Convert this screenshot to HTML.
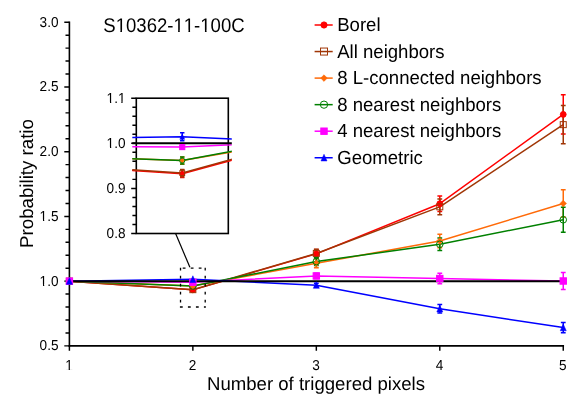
<!DOCTYPE html>
<html><head><meta charset="utf-8"><title>chart</title>
<style>
html,body{margin:0;padding:0;background:#fff;}
svg{display:block;font-family:"Liberation Sans",sans-serif;text-rendering:geometricPrecision;font-kerning:none;will-change:transform;}
</style></head><body>
<svg width="581" height="411" viewBox="0 0 581 411">
<rect width="581" height="411" fill="#fff"/>
<g stroke="#000" stroke-width="1.6" fill="none" stroke-linecap="butt">
<path d="M69.40 21.45V346.65"/>
<path d="M68.60 345.85H564.05"/>
<path d="M64.30 345.85H69.40M65.50 332.91H69.40M65.50 319.96H69.40M65.50 307.02H69.40M65.50 294.07H69.40M64.30 281.13H69.40M65.50 268.19H69.40M65.50 255.24H69.40M65.50 242.30H69.40M65.50 229.35H69.40M64.30 216.41H69.40M65.50 203.47H69.40M65.50 190.52H69.40M65.50 177.58H69.40M65.50 164.63H69.40M64.30 151.69H69.40M65.50 138.75H69.40M65.50 125.80H69.40M65.50 112.86H69.40M65.50 99.91H69.40M64.30 86.97H69.40M65.50 74.03H69.40M65.50 61.08H69.40M65.50 48.14H69.40M65.50 35.19H69.40M64.30 22.25H69.40" stroke-width="1.45"/>
<path d="M69.40 345.85V350.75M192.86 345.85V350.75M316.33 345.85V350.75M439.79 345.85V350.75M563.25 345.85V350.75" stroke-width="1.45"/>
</g>
<g font-size="14.4px" fill="#000">
<text transform="translate(58.5 350.25) scale(0.945 1)" text-anchor="end">0.5</text>
<text transform="translate(58.5 285.53) scale(0.945 1)" text-anchor="end">1.0</text><g transform="translate(58.5 285.53) scale(0.945 1)"><rect x="-19.72" y="-1.33" width="3.32" height="1.98" fill="#fff"/><rect x="-15.12" y="-1.33" width="3.21" height="1.98" fill="#fff"/></g>
<text transform="translate(58.5 220.81) scale(0.945 1)" text-anchor="end">1.5</text><g transform="translate(58.5 220.81) scale(0.945 1)"><rect x="-19.72" y="-1.33" width="3.32" height="1.98" fill="#fff"/><rect x="-15.12" y="-1.33" width="3.21" height="1.98" fill="#fff"/></g>
<text transform="translate(58.5 156.09) scale(0.945 1)" text-anchor="end">2.0</text>
<text transform="translate(58.5 91.37) scale(0.945 1)" text-anchor="end">2.5</text>
<text transform="translate(58.5 26.65) scale(0.945 1)" text-anchor="end">3.0</text>
<text transform="translate(69.05 370.4) scale(0.945 1)" text-anchor="middle">1</text><g transform="translate(69.05 370.4) scale(0.945 1)"><rect x="-3.71" y="-1.33" width="3.32" height="1.98" fill="#fff"/><rect x="0.89" y="-1.33" width="3.21" height="1.98" fill="#fff"/></g>
<text transform="translate(192.51 370.4) scale(0.945 1)" text-anchor="middle">2</text>
<text transform="translate(315.98 370.4) scale(0.945 1)" text-anchor="middle">3</text>
<text transform="translate(439.44 370.4) scale(0.945 1)" text-anchor="middle">4</text>
<text transform="translate(562.90 370.4) scale(0.945 1)" text-anchor="middle">5</text>
</g>
<g font-size="18.8px" fill="#000">
<text x="316.0" y="390.3" text-anchor="middle" font-size="18.6px">Number of triggered pixels</text>
<text transform="translate(32.8 183.5) rotate(-90)" text-anchor="middle" font-size="18.7px">Probability ratio</text>
<text transform="translate(103.3 31.6) scale(0.938 1)" font-size="19.8px">S10362-11-100C</text><g transform="translate(103.3 31.6) scale(0.938 1)"><rect x="13.90" y="-1.73" width="4.27" height="2.38" fill="#fff"/><rect x="19.92" y="-1.73" width="4.12" height="2.38" fill="#fff"/><rect x="75.49" y="-1.73" width="4.27" height="2.38" fill="#fff"/><rect x="81.51" y="-1.73" width="4.12" height="2.38" fill="#fff"/><rect x="86.49" y="-1.73" width="4.27" height="2.38" fill="#fff"/><rect x="92.51" y="-1.73" width="4.12" height="2.38" fill="#fff"/><rect x="104.08" y="-1.73" width="4.27" height="2.38" fill="#fff"/><rect x="110.10" y="-1.73" width="4.12" height="2.38" fill="#fff"/></g>
</g>
<g fill="none" stroke-width="1.5" stroke-linejoin="round">
<polyline points="69.40,281.13 192.86,289.87 316.33,253.88 439.79,203.72 563.25,114.41" stroke="#ff0000"/>
<polyline points="69.40,281.13 192.86,289.67 316.33,253.43 439.79,206.83 563.25,124.64" stroke="#a03606"/>
<polyline points="69.40,281.13 192.86,286.07 316.33,263.33 439.79,241.03 563.25,203.47" stroke="#ff6a08"/>
<polyline points="69.40,281.13 192.86,286.07 316.33,261.58 439.79,244.23 563.25,219.78" stroke="#008000"/>
<polyline points="69.40,281.13 192.86,282.22 316.33,275.95 439.79,278.54 563.25,281.00" stroke="#ff00ff"/>
<polyline points="69.40,281.13 192.86,279.27 316.33,285.14 439.79,308.70 563.25,327.60" stroke="#0000ff"/>
<path d="M69.40 281.13H563.25" stroke="#000" stroke-width="2"/>
</g>
<g>
<path d="M316.33 249.61V258.15M313.93 249.61H318.73M313.93 258.15H318.73" stroke="#ff0000" stroke-width="1.5" fill="none"/>
<path d="M439.79 196.02V211.43M437.39 196.02H442.19M437.39 211.43H442.19" stroke="#ff0000" stroke-width="1.5" fill="none"/>
<path d="M563.25 94.74V134.09M560.85 94.74H565.65M560.85 134.09H565.65" stroke="#ff0000" stroke-width="1.5" fill="none"/>
<path d="M316.33 249.16V257.70M313.93 249.16H318.73M313.93 257.70H318.73" stroke="#a03606" stroke-width="1.5" fill="none"/>
<path d="M439.79 198.97V214.69M437.39 198.97H442.19M437.39 214.69H442.19" stroke="#a03606" stroke-width="1.5" fill="none"/>
<path d="M563.25 105.61V143.66M560.85 105.61H565.65M560.85 143.66H565.65" stroke="#a03606" stroke-width="1.5" fill="none"/>
<path d="M316.33 258.80V267.86M313.93 258.80H318.73M313.93 267.86H318.73" stroke="#ff6a08" stroke-width="1.5" fill="none"/>
<path d="M439.79 234.36V247.70M437.39 234.36H442.19M437.39 247.70H442.19" stroke="#ff6a08" stroke-width="1.5" fill="none"/>
<path d="M563.25 189.87V217.06M560.85 189.87H565.65M560.85 217.06H565.65" stroke="#ff6a08" stroke-width="1.5" fill="none"/>
<path d="M316.33 257.70V265.47M313.93 257.70H318.73M313.93 265.47H318.73" stroke="#008000" stroke-width="1.5" fill="none"/>
<path d="M439.79 238.01V250.44M437.39 238.01H442.19M437.39 250.44H442.19" stroke="#008000" stroke-width="1.5" fill="none"/>
<path d="M563.25 207.22V232.33M560.85 207.22H565.65M560.85 232.33H565.65" stroke="#008000" stroke-width="1.5" fill="none"/>
<path d="M316.33 273.36V278.54M313.93 273.36H318.73M313.93 278.54H318.73" stroke="#ff00ff" stroke-width="1.5" fill="none"/>
<path d="M439.79 273.36V283.72M437.39 273.36H442.19M437.39 283.72H442.19" stroke="#ff00ff" stroke-width="1.5" fill="none"/>
<path d="M563.25 272.46V289.54M560.85 272.46H565.65M560.85 289.54H565.65" stroke="#ff00ff" stroke-width="1.5" fill="none"/>
<path d="M316.33 283.20V287.08M313.93 283.20H318.73M313.93 287.08H318.73" stroke="#0000ff" stroke-width="1.5" fill="none"/>
<path d="M439.79 304.43V312.97M437.39 304.43H442.19M437.39 312.97H442.19" stroke="#0000ff" stroke-width="1.5" fill="none"/>
<path d="M563.25 322.42V332.78M560.85 322.42H565.65M560.85 332.78H565.65" stroke="#0000ff" stroke-width="1.5" fill="none"/>
<circle cx="69.40" cy="281.13" r="2.90" fill="#ff0000" stroke="#ff0000" stroke-width="1.0"/>
<circle cx="192.86" cy="289.87" r="2.90" fill="#ff0000" stroke="#ff0000" stroke-width="1.0"/>
<circle cx="316.33" cy="253.88" r="2.90" fill="#ff0000" stroke="#ff0000" stroke-width="1.0"/>
<circle cx="439.79" cy="203.72" r="2.90" fill="#ff0000" stroke="#ff0000" stroke-width="1.0"/>
<circle cx="563.25" cy="114.41" r="2.90" fill="#ff0000" stroke="#ff0000" stroke-width="1.0"/>
<rect x="66.40" y="278.13" width="6.00" height="6.00" fill="none" stroke="#a03606" stroke-width="1.0"/>
<rect x="189.86" y="286.67" width="6.00" height="6.00" fill="none" stroke="#a03606" stroke-width="1.0"/>
<rect x="313.33" y="250.43" width="6.00" height="6.00" fill="none" stroke="#a03606" stroke-width="1.0"/>
<rect x="436.79" y="203.83" width="6.00" height="6.00" fill="none" stroke="#a03606" stroke-width="1.0"/>
<rect x="560.25" y="121.64" width="6.00" height="6.00" fill="none" stroke="#a03606" stroke-width="1.0"/>
<path d="M69.40 277.83L72.70 281.13L69.40 284.43L66.10 281.13Z" fill="#ff6a08" stroke="#ff6a08" stroke-width="0.5"/>
<path d="M192.86 282.77L196.16 286.07L192.86 289.37L189.56 286.07Z" fill="#ff6a08" stroke="#ff6a08" stroke-width="0.5"/>
<path d="M316.33 260.03L319.63 263.33L316.33 266.63L313.03 263.33Z" fill="#ff6a08" stroke="#ff6a08" stroke-width="0.5"/>
<path d="M439.79 237.73L443.09 241.03L439.79 244.33L436.49 241.03Z" fill="#ff6a08" stroke="#ff6a08" stroke-width="0.5"/>
<path d="M563.25 200.17L566.55 203.47L563.25 206.77L559.95 203.47Z" fill="#ff6a08" stroke="#ff6a08" stroke-width="0.5"/>
<circle cx="69.40" cy="281.13" r="3.30" fill="none" stroke="#008000" stroke-width="1.0"/>
<circle cx="192.86" cy="286.07" r="3.30" fill="none" stroke="#008000" stroke-width="1.0"/>
<circle cx="316.33" cy="261.58" r="3.30" fill="none" stroke="#008000" stroke-width="1.0"/>
<circle cx="439.79" cy="244.23" r="3.30" fill="none" stroke="#008000" stroke-width="1.0"/>
<circle cx="563.25" cy="219.78" r="3.30" fill="none" stroke="#008000" stroke-width="1.0"/>
<rect x="66.20" y="277.93" width="6.40" height="6.40" fill="#ff00ff" stroke="#ff00ff" stroke-width="1.0"/>
<rect x="189.66" y="279.02" width="6.40" height="6.40" fill="#ff00ff" stroke="#ff00ff" stroke-width="1.0"/>
<rect x="313.13" y="272.75" width="6.40" height="6.40" fill="#ff00ff" stroke="#ff00ff" stroke-width="1.0"/>
<rect x="436.59" y="275.34" width="6.40" height="6.40" fill="#ff00ff" stroke="#ff00ff" stroke-width="1.0"/>
<rect x="560.05" y="277.80" width="6.40" height="6.40" fill="#ff00ff" stroke="#ff00ff" stroke-width="1.0"/>
<path d="M69.40 277.63L72.40 284.33L66.40 284.33Z" fill="#0000ff" stroke="#0000ff" stroke-width="0.5"/>
<path d="M192.86 275.77L195.86 282.47L189.86 282.47Z" fill="#0000ff" stroke="#0000ff" stroke-width="0.5"/>
<path d="M316.33 281.64L319.33 288.34L313.33 288.34Z" fill="#0000ff" stroke="#0000ff" stroke-width="0.5"/>
<path d="M439.79 305.20L442.79 311.90L436.79 311.90Z" fill="#0000ff" stroke="#0000ff" stroke-width="0.5"/>
<path d="M563.25 324.10L566.25 330.80L560.25 330.80Z" fill="#0000ff" stroke="#0000ff" stroke-width="0.5"/>
</g>
<g fill="none" stroke="#000" stroke-width="1.3" stroke-dasharray="2.8 5.2">
<path d="M180.52 267.69V307.62"/>
<path d="M205.21 267.69V307.62"/>
<path d="M179.92 307.02H205.86"/>
<path d="M182.72 268.19H205.86"/>
</g>
<path d="M175.6 233.50L189.9 267.29" stroke="#000" stroke-width="1.2" fill="none"/>
<rect x="136.30" y="98.20" width="92.00" height="135.30" fill="#fff" stroke="#000" stroke-width="1.6"/>
<path d="M131.20 233.50H136.30M132.40 224.48H136.30M132.40 215.46H136.30M132.40 206.44H136.30M132.40 197.42H136.30M131.20 188.40H136.30M132.40 179.38H136.30M132.40 170.36H136.30M132.40 161.34H136.30M132.40 152.32H136.30M131.20 143.30H136.30M132.40 134.28H136.30M132.40 125.26H136.30M132.40 116.24H136.30M132.40 107.22H136.30M131.20 98.20H136.30" stroke="#000" stroke-width="1.45" fill="none"/>
<g font-size="14.4px" fill="#000">
<text transform="translate(125.5 238.45) scale(0.945 1)" text-anchor="end">0.8</text>
<text transform="translate(125.5 193.35) scale(0.945 1)" text-anchor="end">0.9</text>
<text transform="translate(125.5 148.25) scale(0.945 1)" text-anchor="end">1.0</text><g transform="translate(125.5 148.25) scale(0.945 1)"><rect x="-19.72" y="-1.33" width="3.32" height="1.98" fill="#fff"/><rect x="-15.12" y="-1.33" width="3.21" height="1.98" fill="#fff"/></g>
<text transform="translate(125.5 103.15) scale(0.945 1)" text-anchor="end">1.1</text><g transform="translate(125.5 103.15) scale(0.945 1)"><rect x="-19.72" y="-1.33" width="3.32" height="1.98" fill="#fff"/><rect x="-15.12" y="-1.33" width="3.21" height="1.98" fill="#fff"/><rect x="-7.72" y="-1.33" width="3.32" height="1.98" fill="#fff"/><rect x="-3.12" y="-1.33" width="3.21" height="1.98" fill="#fff"/></g>
</g>
<clipPath id="ic"><rect x="132.30" y="98.20" width="99.50" height="135.30"/></clipPath>
<g clip-path="url(#ic)"><g fill="none" stroke-width="1.5" stroke-linejoin="round">
<polyline points="-275.25,143.30 182.25,173.74 639.75,48.36" stroke="#ff0000"/>
<polyline points="-275.25,143.30 182.25,173.07 639.75,46.79" stroke="#a03606"/>
<polyline points="-275.25,143.30 182.25,160.53 639.75,81.29" stroke="#ff6a08"/>
<polyline points="-275.25,143.30 182.25,160.53 639.75,75.20" stroke="#008000"/>
<polyline points="-275.25,143.30 182.25,147.09 639.75,125.26" stroke="#ff00ff"/>
<polyline points="-275.25,143.30 182.25,136.81 639.75,157.28" stroke="#0000ff"/>
<path d="M-275.25 143.30H639.75" stroke="#000" stroke-width="2"/>
</g>
<path d="M182.25 169.86V177.62M180.05 169.86H184.45M180.05 177.62H184.45" stroke="#ff0000" stroke-width="1.5" fill="none"/>
<path d="M182.25 169.46V176.67M180.05 169.46H184.45M180.05 176.67H184.45" stroke="#a03606" stroke-width="1.5" fill="none"/>
<path d="M182.25 156.92V164.14M180.05 156.92H184.45M180.05 164.14H184.45" stroke="#ff6a08" stroke-width="1.5" fill="none"/>
<path d="M182.25 157.01V164.05M180.05 157.01H184.45M180.05 164.05H184.45" stroke="#008000" stroke-width="1.5" fill="none"/>
<path d="M182.25 144.83V149.34M180.05 144.83H184.45M180.05 149.34H184.45" stroke="#ff00ff" stroke-width="1.5" fill="none"/>
<path d="M182.25 132.75V140.86M180.05 132.75H184.45M180.05 140.86H184.45" stroke="#0000ff" stroke-width="1.5" fill="none"/>
<circle cx="182.25" cy="173.74" r="2.32" fill="#ff0000" stroke="#ff0000" stroke-width="1.0"/>
<rect x="179.85" y="170.67" width="4.80" height="4.80" fill="none" stroke="#a03606" stroke-width="1.0"/>
<path d="M182.25 157.89L184.89 160.53L182.25 163.17L179.61 160.53Z" fill="#ff6a08" stroke="#ff6a08" stroke-width="0.5"/>
<circle cx="182.25" cy="160.53" r="2.64" fill="none" stroke="#008000" stroke-width="1.0"/>
<rect x="179.69" y="144.53" width="5.12" height="5.12" fill="#ff00ff" stroke="#ff00ff" stroke-width="1.0"/>
<path d="M182.25 134.01L184.65 139.37L179.85 139.37Z" fill="#0000ff" stroke="#0000ff" stroke-width="0.5"/>
</g>
<g font-size="18.9px" fill="#000">
<path d="M314.6 25.00H332.7" stroke="#ff0000" stroke-width="1.5"/>
<circle cx="324.00" cy="25.00" r="3.10" fill="#ff0000" stroke="#ff0000" stroke-width="1.0"/>
<text transform="translate(337.2 31.25) scale(0.983 1)">Borel</text>
<path d="M314.6 51.55H332.7" stroke="#a03606" stroke-width="1.5"/>
<rect x="320.50" y="48.05" width="7.00" height="7.00" fill="none" stroke="#a03606" stroke-width="1.0"/>
<text transform="translate(337.2 57.80) scale(0.983 1)">All neighbors</text>
<path d="M314.6 78.10H332.7" stroke="#ff6a08" stroke-width="1.5"/>
<path d="M324.00 74.80L327.30 78.10L324.00 81.40L320.70 78.10Z" fill="#ff6a08" stroke="#ff6a08" stroke-width="0.5"/>
<text transform="translate(337.2 84.35) scale(0.983 1)">8 L-connected neighbors</text>
<path d="M314.6 104.65H332.7" stroke="#008000" stroke-width="1.5"/>
<circle cx="324.00" cy="104.65" r="3.65" fill="none" stroke="#008000" stroke-width="1.0"/>
<text transform="translate(337.2 110.90) scale(0.983 1)">8 nearest neighbors</text>
<path d="M314.6 131.20H332.7" stroke="#ff00ff" stroke-width="1.5"/>
<rect x="320.80" y="128.00" width="6.40" height="6.40" fill="#ff00ff" stroke="#ff00ff" stroke-width="1.0"/>
<text transform="translate(337.2 137.45) scale(0.983 1)">4 nearest neighbors</text>
<path d="M314.6 157.75H332.7" stroke="#0000ff" stroke-width="1.5"/>
<path d="M324.00 154.25L327.00 160.95L321.00 160.95Z" fill="#0000ff" stroke="#0000ff" stroke-width="0.5"/>
<text transform="translate(337.2 164.00) scale(0.983 1)">Geometric</text>
</g>
</svg>
</body></html>
